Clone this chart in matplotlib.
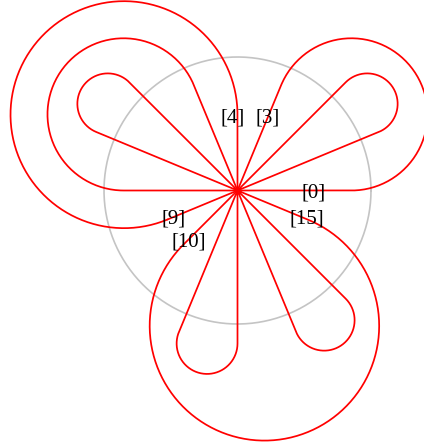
import numpy as np
import matplotlib.pyplot as plt

# Self-loops around one node: start ray angle, end ray angle (degrees), distance of arc centre
LOOP_START = [135.0, 112.5, 90.0, 22.5, 0.0, 247.5, 292.5, 225.0]
LOOP_END = [157.5, 180.0, 202.5, 45.0, 67.5, 270.0, 315.0, 337.5]
LOOP_DIST = [156, 137, 136.5, 156, 137, 156, 156, 138]

# Port labels: text, angle (deg), distance from the node
LABELS = ["[0]", "[3]", "[4]", "[9]", "[10]", "[15]"]
LABEL_ANGLE = [-2.1, 67.4, 93.5, 203.9, 226.3, 337.5]
LABEL_DIST = [76, 79, 73, 70, 71, 74.5]

RING_RADIUS = 133.5

# node sits at pixel (237.5, 190.5) of a 424x448 canvas
CX, CY = 237.5, 190.5
W, H = 424, 448


def loop_path(a1, a2, d):
    h = np.deg2rad(abs(a2 - a1) / 2)
    b = np.deg2rad((a1 + a2) / 2)
    r = d * np.sin(h)
    ox, oy = d * np.cos(b), d * np.sin(b)
    t = d * np.cos(h)
    p1 = np.array([t * np.cos(np.deg2rad(a1)), t * np.sin(np.deg2rad(a1))])
    p2 = np.array([t * np.cos(np.deg2rad(a2)), t * np.sin(np.deg2rad(a2))])
    f1 = np.arctan2(p1[1] - oy, p1[0] - ox)
    f2 = np.arctan2(p2[1] - oy, p2[0] - ox)
    # go round the far side (through the bisector direction)
    while f2 < f1:
        f2 += 2 * np.pi
    mid = (f1 + f2) / 2
    if abs(((mid - b + np.pi) % (2 * np.pi)) - np.pi) > np.pi / 2:
        f2 -= 2 * np.pi
    phi = np.linspace(f1, f2, 200)
    xs = np.concatenate([[0, p1[0]], ox + r * np.cos(phi), [p2[0], 0]])
    ys = np.concatenate([[0, p1[1]], oy + r * np.sin(phi), [p2[1], 0]])
    return xs, ys


fig = plt.figure(figsize=(W / 100, H / 100), dpi=100)
ax = fig.add_axes([0, 0, 1, 1])
ax.set_xlim(-CX, W - CX)
ax.set_ylim(-(H - CY), CY)
ax.set_aspect('equal')
ax.axis('off')

ring = np.linspace(0, 2 * np.pi, 400)
ax.plot(RING_RADIUS * np.cos(ring), RING_RADIUS * np.sin(ring), color='#c4c4c4', lw=1.2)

for a1, a2, d in zip(LOOP_START, LOOP_END, LOOP_DIST):
    xs, ys = loop_path(a1, a2, d)
    ax.plot(xs, ys, color='#ff0000', lw=1.25, solid_joinstyle='round')

ax.plot(0, 0, 'o', color='red', ms=3.5)

for txt, ang, dist in zip(LABELS, LABEL_ANGLE, LABEL_DIST):
    a = np.deg2rad(ang)
    ax.text(dist * np.cos(a), dist * np.sin(a), txt, ha='center', va='center',
            family='Liberation Serif', fontsize=15, color='black')

fig.savefig('out.png', dpi=100)
